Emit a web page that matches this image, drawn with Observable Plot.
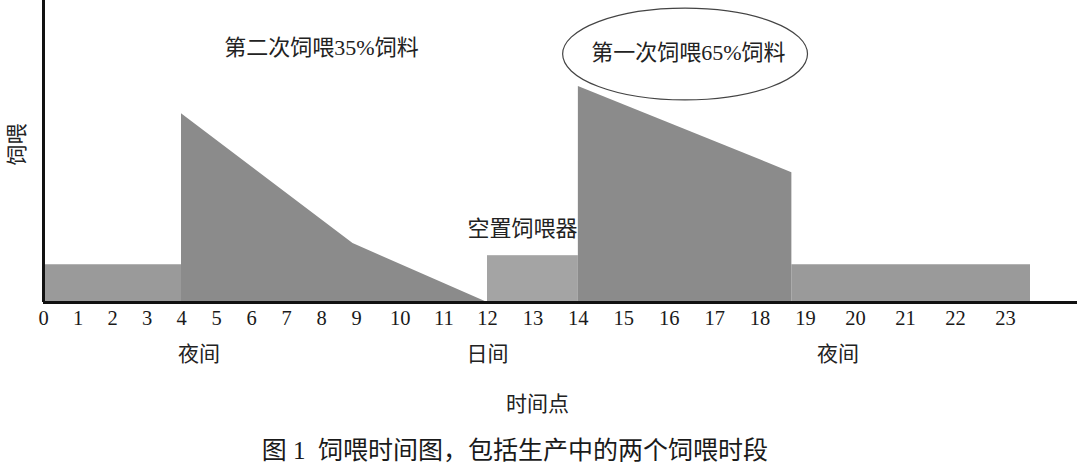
<!DOCTYPE html>
<html><head><meta charset="utf-8">
<script src="https://cdn.jsdelivr.net/npm/d3@7"></script>
<script src="https://cdn.jsdelivr.net/npm/@observablehq/plot@0.6"></script>
<style>body{margin:0;background:#fff}</style>
</head><body><div id="chart"></div>
<script>
// Hours shown on the time axis
const tickHours = [0,1,2,3,4,5,6,7,8,9,10,11,12,13,14,15,16,17,18,19,20,21,22,23];
// Night-time feeder level (rectangles)
const nightStart = [0, 18.7];
const nightEnd = [4, 23.5];
const nightLevel = [12.5, 12.5];
// Empty feeder period
const idleStart = [12];
const idleEnd = [14];
const idleLevel = [15.5];
// Second feeding (35%) profile
const secondHour = [4, 8.9, 12];
const secondLevel = [62.5, 19.5, 0];
// First feeding (65%) profile
const firstHour = [14, 18.7];
const firstLevel = [71.5, 43];
// Text
const periodNames = ["夜间", "日间", "夜间"];
const periodHours = [4.5, 12, 19.65];

const rectRows = (s, e, l) => s.map((d, i) => ({x1: d, x2: e[i], y: l[i]}));
const lineRows = (h, l) => h.map((d, i) => ({x: d, y: l[i]}));

const night = rectRows(nightStart, nightEnd, nightLevel);
const idle = rectRows(idleStart, idleEnd, idleLevel);
const second = lineRows(secondHour, secondLevel);
const first = lineRows(firstHour, firstLevel);
const periods = periodNames.map((t, i) => ({t, x: periodHours[i]}));

const cjk = "'Liberation Serif', 'Noto Sans CJK SC', sans-serif";
const sans = "'Noto Sans CJK SC', sans-serif";

const ellipse = (index, scales) => {
  const cx = scales.x(16.36), cy = scales.y(82.1);
  const rx = scales.x(16.36 + 2.69) - cx, ry = scales.y(82.1 - 15.2) - cy;
  return d3.create("svg:ellipse")
    .attr("cx", cx).attr("cy", cy).attr("rx", rx).attr("ry", ry)
    .attr("fill", "white").attr("stroke", "#444").attr("stroke-width", 1.2)
    .node();
};

const chart = Plot.plot({
  width: 1077,
  height: 473,
  marginLeft: 43,
  marginRight: 0,
  marginTop: 0,
  marginBottom: 171,
  style: {background: "white", fontFamily: sans},
  x: {type: "linear", domain: [0, 4, 9, 12, 19, 23], range: [43, 181, 356, 487, 805, 1005], axis: null},
  y: {domain: [0, 100], axis: null},
  marks: [
    Plot.rect(night, {x1: "x1", x2: "x2", y1: 0, y2: "y", fill: "#9a9a9a"}),
    Plot.rect(idle, {x1: "x1", x2: "x2", y1: 0, y2: "y", fill: "#a4a4a4"}),
    Plot.areaY(second, {x: "x", y: "y", fill: "#8b8b8b"}),
    Plot.areaY(first, {x: "x", y: "y", fill: "#8b8b8b"}),
    Plot.ruleX([0], {stroke: "#111", strokeWidth: 3}),
    Plot.ruleY([0], {stroke: "#111", strokeWidth: 3}),
    Plot.text(tickHours, {x: d => d, text: d => String(d), frameAnchor: "bottom", dy: 22, fontSize: 20.5, fontFamily: "'Liberation Serif', serif", fill: "#1a1a1a"}),
    Plot.text(periods, {x: "x", text: "t", frameAnchor: "bottom", dy: 58, fontSize: 21, fill: "#222"}),
    Plot.text(["时间点"], {x: 13.1, frameAnchor: "bottom", dy: 108, fontSize: 21, fill: "#222"}),
    Plot.text(["图 1  饲喂时间图，包括生产中的两个饲喂时段"], {x: 12.6, frameAnchor: "bottom", dy: 156, fontSize: 25, fontFamily: cjk, fill: "#1a1a1a"}),
    Plot.text(["饲喂"], {y: 45.4, frameAnchor: "left", dx: -26, rotate: -90, fontSize: 21, fill: "#222"}),
    Plot.text(["第二次饲喂35%饲料"], {x: 8, y: 84.4, fontSize: 22, fontFamily: cjk, fill: "#222"}),
    Plot.text(["空置饲喂器"], {x: 12.77, y: 24.2, fontSize: 22, fill: "#222"}),
    ellipse,
    Plot.text(["第一次饲喂65%饲料"], {x: 16.42, y: 82.5, fontSize: 22, fontFamily: cjk, fill: "#222"})
  ]
});
document.getElementById("chart").appendChild(chart);
</script></body></html>
